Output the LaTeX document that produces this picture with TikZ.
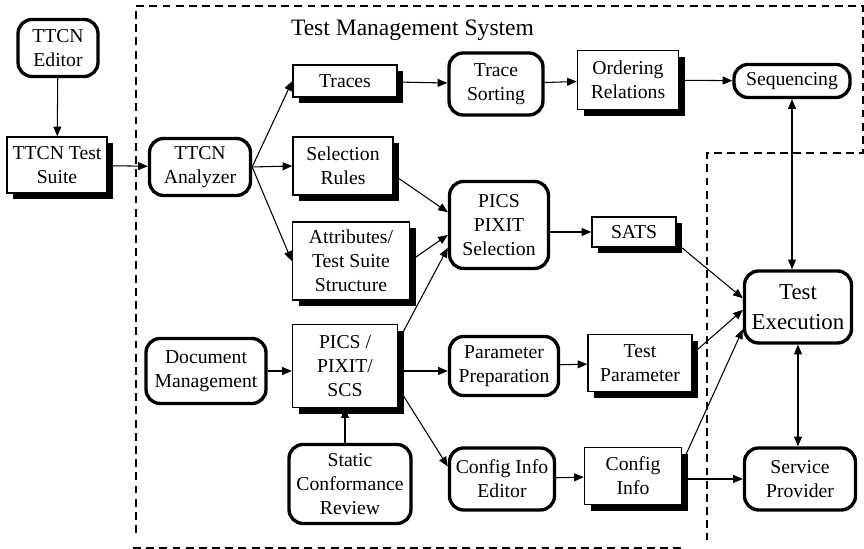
\documentclass[tikz,border=0pt]{standalone}
\usepackage{fontspec}
\setmainfont{Liberation Serif}
\usetikzlibrary{arrows.meta,shadows}
\begin{document}
\begin{tikzpicture}[
		font=\fontsize{11.2}{13.5}\selectfont,
		>={Triangle[length=5.5pt,width=4.5pt]},
		every path/.append style={line width=0.6pt},
		activity/.style={draw, line width=1.9pt, rounded corners=8pt, fill=white, align=center, inner sep=2pt},
		artifact/.style={draw, line width=0.8pt, fill=white, align=center, inner sep=2pt,
			drop shadow={shadow xshift=3.5pt, shadow yshift=-3.5pt, fill=black, opacity=1}},
		boundary/.style={dash pattern=on 4.5pt off 3pt, line width=0.6pt}
	]
	\useasboundingbox (0,0) rectangle (17.28,10.98);
	
	\draw[boundary] (2.72,0.32) -- (2.72,10.86) -- (17.26,10.86) -- (17.26,7.92) -- (14.14,7.92) -- (14.14,0.18);
	\draw[boundary] (2.66,0.02) -- (13.66,0.02);
	\node[font=\fontsize{13.4}{16}\selectfont] (title) at (8.25,10.38) {Test Management System};
	
	\node[activity, minimum width=1.6cm, minimum height=1.14cm] (editor) at (1.16,10.02) {TTCN\\Editor};
	\node[artifact, minimum width=2.0cm, minimum height=1.12cm] (suite) at (1.14,7.68) {TTCN Test\\Suite};
	\node[activity, minimum width=2.02cm, minimum height=1.14cm] (analyzer) at (4.0,7.64) {TTCN\\Analyzer};
	
	\node[artifact, minimum width=2.08cm, minimum height=0.64cm] (traces) at (6.9,9.36) {Traces};
	\node[activity, minimum width=1.88cm, minimum height=1.24cm] (sorting) at (9.92,9.30) {Trace\\Sorting};
	\node[artifact, minimum width=2.02cm, minimum height=1.18cm] (ordering) at (12.56,9.38) {Ordering\\Relations};
	\node[activity, minimum width=2.32cm, minimum height=0.66cm] (sequencing) at (15.84,9.36) {Sequencing};
	
	\node[artifact, minimum width=2.0cm, minimum height=1.16cm] (rules) at (6.86,7.66) {Selection\\Rules};
	\node[artifact, minimum width=2.34cm, minimum height=1.56cm] (attrib) at (7.02,5.76) {Attributes/\\Test Suite\\Structure};
	\node[activity, minimum width=1.98cm, minimum height=1.74cm] (selection) at (9.98,6.48) {PICS\\PIXIT\\Selection};
	\node[artifact, minimum width=1.68cm, minimum height=0.6cm] (sats) at (12.68,6.34) {SATS};
	\node[activity, minimum width=2.14cm, minimum height=1.44cm, font=\fontsize{13}{17}\selectfont] (execution) at (15.96,4.84) {Test\\Execution};
	
	\node[activity, minimum width=2.4cm, minimum height=1.3cm] (docmgmt) at (4.12,3.56) {Document\\Management};
	\node[artifact, minimum width=2.1cm, minimum height=1.66cm] (pics) at (6.9,3.66) {PICS /\\PIXIT/\\SCS};
	\node[activity, minimum width=2.18cm, minimum height=1.18cm] (paramprep) at (10.08,3.66) {Parameter\\Preparation};
	\node[artifact, minimum width=2.08cm, minimum height=1.14cm] (testparam) at (12.8,3.72) {Test\\Parameter};
	
	\node[activity, minimum width=2.44cm, minimum height=1.58cm] (review) at (7.0,1.30) {Static\\Conformance\\Review};
	\node[activity, minimum width=2.1cm, minimum height=1.24cm] (cfgeditor) at (10.04,1.40) {Config Info\\Editor};
	\node[artifact, minimum width=1.94cm, minimum height=1.14cm] (cfginfo) at (12.66,1.46) {Config\\Info};
	\node[activity, minimum width=2.22cm, minimum height=1.24cm] (provider) at (16.0,1.40) {Service\\Provider};
	
	% tool chain
	\draw[->] (editor) -- (suite);
	\draw[->] (suite) -- (analyzer);
	\draw[->] (analyzer.east) -- (traces.west);
	\draw[->] (analyzer.east) -- (rules.west);
	\draw[->] (analyzer.east) -- (attrib.west);
	\draw[->] (traces) -- (sorting);
	\draw[->] (sorting) -- (ordering);
	\draw[->] (ordering) -- (sequencing);
	
	% selection
	\draw[->] (rules.-10) -- (selection.166);
	\draw[->] (attrib.east) -- (selection.191);
	\draw[->] (pics.25) -- (selection.204);
	\draw[->] (selection.east |- sats.west) -- (sats.west);
	
	% execution
	\draw[->] (sats.-15) -- (execution.171);
	\draw[->] (testparam.10) -- (execution.183);
	\draw[->] (cfginfo.15) -- (execution.202);
	\draw[<->] (sequencing.south) -- (sequencing.south |- execution.north);
	\draw[<->] (execution.south) -- (execution.south |- provider.north);
	
	% documents
	\draw[->] (docmgmt.east) -- (docmgmt.east -| pics.west);
	\draw[->] (pics.east |- docmgmt.east) -- (docmgmt.east -| paramprep.west);
	\draw[->] (pics.-22) -- (cfgeditor.167);
	\draw[->] (review.north -| pics.south) -- (pics.south);
	\draw[->] (paramprep) -- (testparam);
	\draw[->] (cfgeditor) -- (cfginfo);
	\draw[->] (cfginfo.east |- provider.west) -- (provider.west);
\end{tikzpicture}
\end{document}
